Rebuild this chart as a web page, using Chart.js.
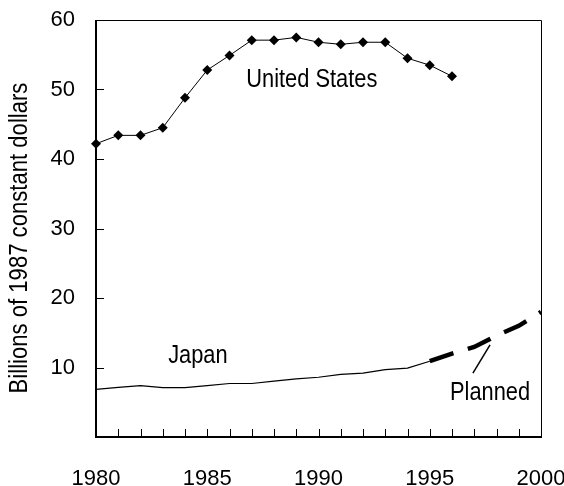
<!DOCTYPE html>
<html><head><meta charset="utf-8">
<script src="https://cdn.jsdelivr.net/npm/chart.js@4/dist/chart.umd.min.js"></script>
<style>html,body{margin:0;padding:0;background:#fff}#wrap{width:564px;height:486px}</style>
</head><body><div id="wrap"><canvas id="c" width="564" height="486"></canvas></div>
<script>
// ---- data ----
const usYears = [1980,1981,1982,1983,1984,1985,1986,1987,1988,1989,1990,1991,1992,1993,1994,1995,1996];
const usValues = [42.2,43.4,43.4,44.5,48.8,52.8,54.9,57.1,57.1,57.5,56.8,56.5,56.8,56.8,54.5,53.5,51.9];
const japanYears = [1980,1981,1982,1983,1984,1985,1986,1987,1988,1989,1990,1991,1992,1993,1994,1995];
const japanValues = [6.85,7.15,7.4,7.1,7.1,7.4,7.7,7.7,8.05,8.35,8.6,9.0,9.2,9.7,9.9,10.9];
const plannedYears = [1995,1996,1997,1998,1999,2000];
const plannedValues = [10.9,12.0,12.95,14.6,16.0,18.0];
const xTickLabels = [1980,1985,1990,1995,2000];
const yTickLabels = [10,20,30,40,50,60];
const yAxisTitle = 'Billions of 1987 constant dollars';
const seriesLabels = [
  {text:'United States', x:1989.7, y:50.36},
  {text:'Japan', x:1984.58, y:10.65},
  {text:'Planned', x:1997.71, y:5.32}
];
const leader = {x1:1996.94, y1:9.2, x2:1997.71, y2:13.24};

const FONT = "'Liberation Sans',Arial,sans-serif";
const toXY = (xs, ys) => xs.map((x,i)=>({x:x, y:ys[i]}));

function condensedText(ctx, text, x, y, sx) {
  ctx.save();
  ctx.translate(x, y);
  ctx.scale(sx, 1);
  ctx.fillText(text, 0, 0);
  ctx.restore();
}

const framePlugin = {
  id:'frame',
  afterDraw(chart){
    const ctx = chart.ctx, a = chart.chartArea;
    const xs = chart.scales.x, ys = chart.scales.y;
    ctx.save();
    ctx.strokeStyle = '#000';
    ctx.lineWidth = 1;
    ctx.beginPath();
    ctx.moveTo(a.left, a.top+0.5); ctx.lineTo(a.right+0.5, a.top+0.5); ctx.lineTo(a.right+0.5, a.bottom);
    ctx.stroke();
    ctx.lineWidth = 2;
    ctx.beginPath();
    ctx.moveTo(a.left, a.top); ctx.lineTo(a.left, a.bottom); ctx.lineTo(a.right+1, a.bottom);
    ctx.stroke();
    ctx.lineWidth = 1;
    ctx.beginPath();
    for (let yr = 1981; yr < 2000; yr++) {
      const px = Math.round(xs.getPixelForValue(yr)) + 0.5;
      ctx.moveTo(px, a.bottom); ctx.lineTo(px, a.bottom - 8);
    }
    yTickLabels.forEach(v => {
      if (v >= 60) return;
      const py = Math.round(ys.getPixelForValue(v)) + 0.5;
      ctx.moveTo(a.left, py); ctx.lineTo(a.left + 8, py);
    });
    ctx.stroke();
    ctx.fillStyle = '#000';
    ctx.font = '26px ' + FONT;
    ctx.textAlign = 'center';
    ctx.textBaseline = 'alphabetic';
    seriesLabels.forEach(l => condensedText(ctx, l.text, xs.getPixelForValue(l.x), ys.getPixelForValue(l.y), 0.84));
    ctx.lineWidth = 1.5;
    ctx.beginPath();
    ctx.moveTo(xs.getPixelForValue(leader.x1), ys.getPixelForValue(leader.y1));
    ctx.lineTo(xs.getPixelForValue(leader.x2), ys.getPixelForValue(leader.y2));
    ctx.stroke();
    ctx.save();
    ctx.translate(20, (a.top + a.bottom)/2 + 9.5);
    ctx.rotate(-Math.PI/2);
    ctx.textBaseline = 'middle';
    ctx.font = '26px ' + FONT;
    condensedText(ctx, yAxisTitle, 0, 0, 0.85);
    ctx.restore();
    ctx.restore();
  }
};

function noPad(s){ s.paddingTop = 0; s.paddingBottom = 0; s.paddingLeft = 0; s.paddingRight = 0; }

new Chart(document.getElementById('c'), {
  type:'line',
  data:{
    datasets:[
      {label:'United States', data:toXY(usYears, usValues), borderColor:'#000', borderWidth:1,
       pointStyle:'rectRot', pointRadius:5, pointBackgroundColor:'#000', pointBorderColor:'#000', pointBorderWidth:0, clip:false, tension:0},
      {label:'Japan', data:toXY(japanYears, japanValues), borderColor:'#000', borderWidth:1.2, pointRadius:0, tension:0},
      {label:'Planned', data:toXY(plannedYears, plannedValues), borderColor:'#000', borderWidth:4.5,
       borderDash:[25,15], borderCapStyle:'butt', pointRadius:0, clip:false, tension:0}
    ]
  },
  options:{
    responsive:false, animation:false, devicePixelRatio:1,
    layout:{padding:{top:20, right:23, left:0, bottom:0}},
    plugins:{legend:{display:false}, tooltip:{enabled:false}},
    scales:{
      x:{type:'linear', min:1980, max:2000,
         afterFit(s){ s.height = 49; noPad(s); },
         grid:{display:false, drawTicks:false}, border:{display:false},
         ticks:{stepSize:1, autoSkip:false, maxRotation:0, minRotation:0, padding:29, color:'#000',
                font:{family:FONT, size:22},
                callback:v => xTickLabels.includes(v) ? String(v) : ''}},
      y:{min:0, max:60,
         afterFit(s){ s.width = 96; noPad(s); },
         grid:{display:false, drawTicks:false}, border:{display:false},
         ticks:{stepSize:10, padding:21, color:'#000', font:{family:FONT, size:22},
                callback:v => yTickLabels.includes(v) ? String(v) : ''}}
    }
  },
  plugins:[framePlugin]
});
</script></body></html>
